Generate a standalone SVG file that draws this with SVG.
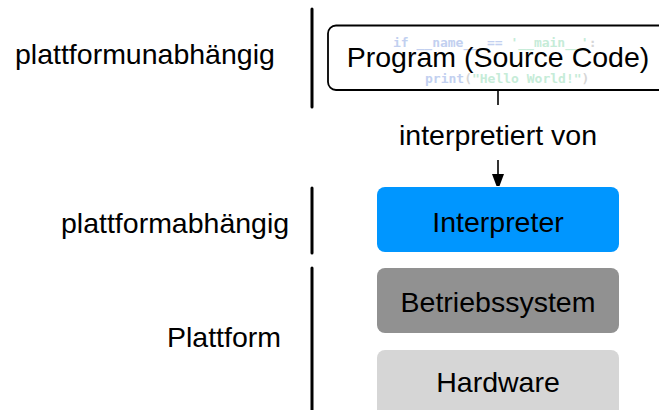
<svg xmlns="http://www.w3.org/2000/svg" width="659" height="410" viewBox="0 0 659 410">
  <defs>
    <style>
      .lbl { font-family: "Liberation Sans", Arial, Helvetica, sans-serif; font-size: 28.5px; fill: #000; }
      .mid { text-anchor: middle; }
      .code { font-family: "DejaVu Sans Mono", "Liberation Mono", monospace; font-size: 13px; font-weight: bold; }
      .kw { fill: #c2d0f0; }
      .str { fill: #c6ecd8; }
      .pun { fill: #d6d6d6; }
      .bar { stroke: #000; stroke-width: 3; stroke-linecap: round; fill: none; }
      .conn { stroke: #000; stroke-width: 1.6; fill: none; }
    </style>
    <marker id="arrow" viewBox="0 0 12 16" refX="12" refY="6" markerWidth="12" markerHeight="16" markerUnits="userSpaceOnUse" orient="auto">
      <path d="M0,0 L16,6 L0,12 Z" fill="#000"/>
    </marker>
  </defs>

  <rect width="659" height="410" fill="#fff"/>

  <!-- layer brackets and their captions -->
  <g id="layer-independent">
    <line class="bar" x1="312" y1="9" x2="312" y2="107"/>
    <text class="lbl" x="15" y="63.5">plattformunabhängig</text>
  </g>
  <g id="layer-dependent">
    <line class="bar" x1="312" y1="188" x2="312" y2="253"/>
    <text class="lbl" x="61" y="233">plattformabhängig</text>
  </g>
  <g id="layer-platform">
    <line class="bar" x1="312" y1="268" x2="312" y2="412"/>
    <text class="lbl" x="167" y="347">Plattform</text>
  </g>

  <!-- source program with faint code in the background -->
  <g id="program">
    <rect x="328" y="25.5" width="345" height="64.5" rx="8" ry="8" fill="#fff" stroke="#000" stroke-width="1.8"/>
    <text class="code" x="393" y="47" xml:space="preserve"><tspan class="kw">if __name__ ==</tspan><tspan class="str"> '__main__'</tspan><tspan class="pun">:</tspan></text>
    <text class="code" x="425" y="83"><tspan class="kw">print</tspan><tspan class="pun">(</tspan><tspan class="str">"Hello World!"</tspan><tspan class="pun">)</tspan></text>
    <text class="lbl mid" x="498" y="67">Program (Source Code)</text>
  </g>

  <g id="interpreter">
    <rect x="377" y="187" width="242" height="65" rx="8" ry="8" fill="#0096ff"/>
    <text class="lbl mid" x="498" y="232">Interpreter</text>
  </g>

  <g id="os">
    <rect x="377" y="268" width="242" height="65" rx="8" ry="8" fill="#919191"/>
    <text class="lbl mid" x="498" y="312">Betriebssystem</text>
  </g>

  <g id="hardware">
    <rect x="377" y="350" width="242" height="70" rx="8" ry="8" fill="#d6d6d6"/>
    <text class="lbl mid" x="498" y="392">Hardware</text>
  </g>

  <!-- program is interpreted by the interpreter -->
  <g id="connectors">
    <line class="conn" x1="498" y1="90" x2="498" y2="105"/>
    <line class="conn" x1="498" y1="160" x2="498" y2="186" marker-end="url(#arrow)"/>
    <text class="lbl mid" x="498" y="145">interpretiert von</text>
  </g>
</svg>
